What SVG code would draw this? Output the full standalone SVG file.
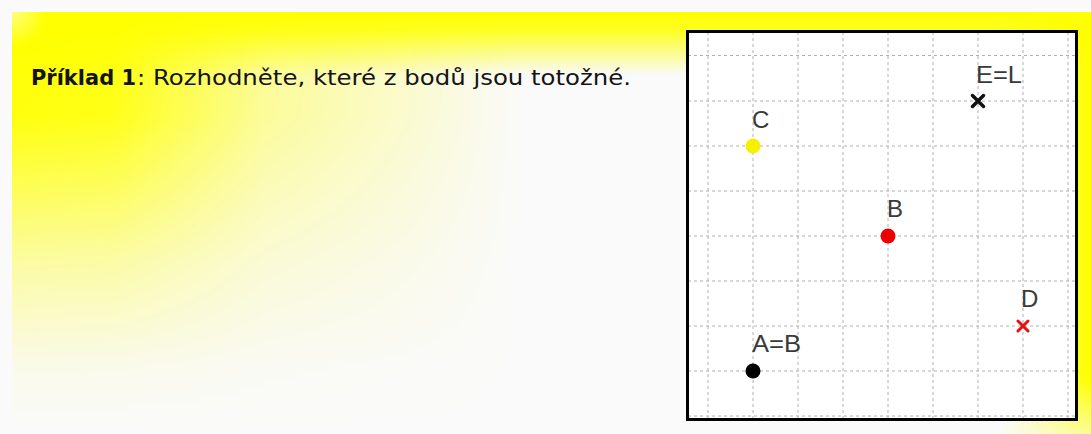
<svg xmlns="http://www.w3.org/2000/svg" width="1091" height="434" viewBox="0 0 1091 434">
  <defs>
    <linearGradient id="hY" gradientUnits="userSpaceOnUse" x1="12" y1="0" x2="520" y2="0">
      <stop offset="0" stop-color="#ffff00" stop-opacity="1"/>
      <stop offset="0.2" stop-color="#ffff00" stop-opacity="0.95"/>
      <stop offset="0.5" stop-color="#ffff00" stop-opacity="0.4"/>
      <stop offset="1" stop-color="#ffff00" stop-opacity="0"/>
    </linearGradient>
    <linearGradient id="vW" gradientUnits="userSpaceOnUse" x1="0" y1="12" x2="0" y2="430">
      <stop offset="0" stop-color="#fff" stop-opacity="1"/>
      <stop offset="0.25" stop-color="#fff" stop-opacity="0.95"/>
      <stop offset="0.6" stop-color="#fff" stop-opacity="0.35"/>
      <stop offset="0.85" stop-color="#fff" stop-opacity="0.06"/>
      <stop offset="1" stop-color="#fff" stop-opacity="0"/>
    </linearGradient>
    <mask id="mv">
      <rect x="0" y="0" width="1091" height="434" fill="url(#vW)"/>
    </mask>
    <linearGradient id="topY" gradientUnits="userSpaceOnUse" x1="0" y1="12" x2="0" y2="75">
      <stop offset="0" stop-color="#ffff00" stop-opacity="1"/>
      <stop offset="0.3" stop-color="#ffff00" stop-opacity="0.85"/>
      <stop offset="1" stop-color="#ffff00" stop-opacity="0"/>
    </linearGradient>
    <linearGradient id="rightY" gradientUnits="userSpaceOnUse" x1="1000" y1="0" x2="1091" y2="0">
      <stop offset="0" stop-color="#ffff00" stop-opacity="0"/>
      <stop offset="0.85" stop-color="#ffff00" stop-opacity="0.9"/>
      <stop offset="1" stop-color="#ffff00" stop-opacity="1"/>
    </linearGradient>
    <linearGradient id="rightFade" gradientUnits="userSpaceOnUse" x1="0" y1="380" x2="0" y2="434">
      <stop offset="0" stop-color="#fafafa" stop-opacity="0"/>
      <stop offset="1" stop-color="#fafafa" stop-opacity="0.6"/>
    </linearGradient>
    <radialGradient id="corner" gradientUnits="userSpaceOnUse" cx="12" cy="12" r="35">
      <stop offset="0" stop-color="#ffffb0" stop-opacity="0.7"/>
      <stop offset="1" stop-color="#ffffb0" stop-opacity="0"/>
    </radialGradient>
    <style>
      .grid { stroke: #b0b0b0; stroke-width: 1; stroke-dasharray: 3 3; fill: none; }
      .lbl { font-family: "Liberation Sans", Arial, sans-serif; font-size: 24px; fill: #3a3a3a; }
      .title { font-family: "DejaVu Sans", "Noto Sans", sans-serif; font-size: 22px; fill: #141414; }
    </style>
  </defs>

  <!-- background -->
  <rect x="0" y="0" width="1091" height="434" fill="#fafafa"/>
  <rect x="12" y="12" width="1079" height="422" fill="url(#hY)" mask="url(#mv)"/>
  <rect x="12" y="12" width="1079" height="63" fill="url(#topY)"/>
  <rect x="1000" y="12" width="91" height="422" fill="url(#rightY)"/>
  <rect x="1000" y="380" width="91" height="54" fill="url(#rightFade)"/>
  <rect x="12" y="12" width="50" height="50" fill="url(#corner)"/>

  <!-- title -->
  <g id="title">
    <text class="title" x="31" y="85" font-weight="bold" textLength="105" lengthAdjust="spacingAndGlyphs">Příklad 1</text>
    <text class="title" x="137" y="85" textLength="494" lengthAdjust="spacingAndGlyphs">: Rozhodněte, které z bodů jsou totožné.</text>
  </g>

  <!-- grid panel -->
  <g id="panel">
    <rect x="687.5" y="31.5" width="389" height="388" fill="#ffffff"/>
    <g class="grid">
      <path d="M708 32V419M753 32V419M798 32V419M843 32V419M888 32V419M933 32V419M978 32V419M1023 32V419M1068 32V419"/>
      <path d="M688 55.5H1076M688 101H1076M688 146H1076M688 191H1076M688 236H1076M688 281H1076M688 326H1076M688 371H1076M688 416H1076"/>
    </g>
    <rect x="687.5" y="31.5" width="389" height="388" fill="none" stroke="#000" stroke-width="3"/>
  </g>

  <!-- points -->
  <g id="point-C">
    <circle cx="753" cy="146" r="7.5" fill="#f5f000"/>
    <text class="lbl" x="752" y="128">C</text>
  </g>
  <g id="point-EL">
    <path d="M972.5 95.5L983.5 106.5M983.5 95.5L972.5 106.5" stroke="#111" stroke-width="3.5" stroke-linecap="round"/>
    <text class="lbl" x="976" y="83" textLength="46" lengthAdjust="spacingAndGlyphs">E=L</text>
  </g>
  <g id="point-B">
    <circle cx="888" cy="236" r="7.5" fill="#ee0000"/>
    <text class="lbl" x="887" y="217">B</text>
  </g>
  <g id="point-D">
    <path d="M1018 321L1028 331M1028 321L1018 331" stroke="#e81010" stroke-width="3" stroke-linecap="round"/>
    <text class="lbl" x="1021" y="307">D</text>
  </g>
  <g id="point-AB">
    <circle cx="753" cy="371" r="7.5" fill="#000"/>
    <text class="lbl" x="752" y="352" textLength="49" lengthAdjust="spacingAndGlyphs">A=B</text>
  </g>
</svg>
